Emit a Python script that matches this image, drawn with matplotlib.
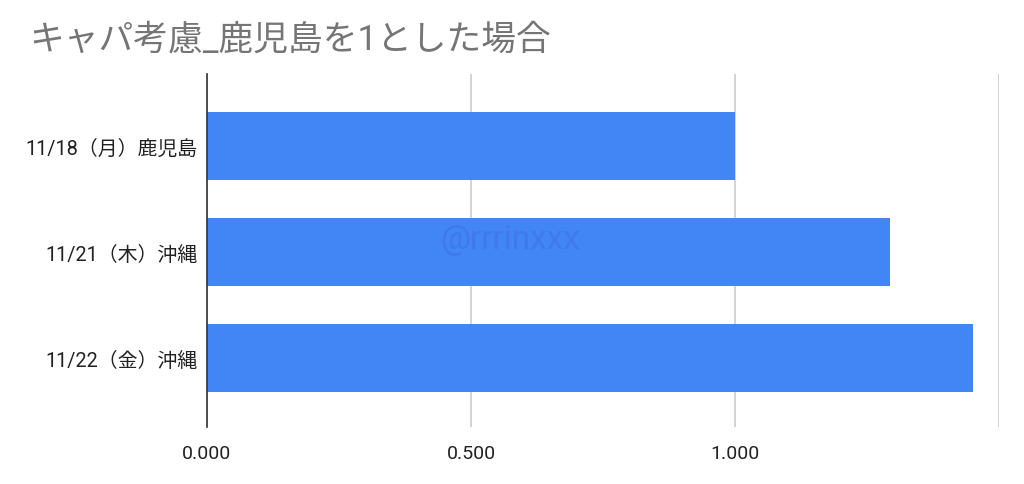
import matplotlib
matplotlib.use("Agg")
import matplotlib.pyplot as plt

plt.rcParams['font.family'] = ['Roboto', 'Noto Sans CJK JP', 'DejaVu Sans']

# data
labels = ['11/18（月）鹿児島', '11/21（木）沖縄', '11/22（金）沖縄']
values = [1.0, 1.293, 1.450]
xticks = [0.0, 0.5, 1.0, 1.5]
xtick_labels = ['0.000', '0.500', '1.000', '']

fig = plt.figure(figsize=(10.24, 4.85), dpi=100)
ax = fig.add_axes([0.2021, 0.1175, 0.7735, 0.7275])

ypos = list(range(len(labels)))
ax.barh(ypos, values, height=0.64, color='#4285F4', zorder=3)
ax.set_ylim(len(labels) - 1 + 0.65, -0.68)
ax.set_xlim(0, 1.5)

ax.set_xticks(xticks)
ax.set_xticklabels(xtick_labels, fontsize=14, color='#222222')
ax.set_yticks(ypos)
ax.set_yticklabels(labels, fontsize=14.3, color='#222222')
ax.tick_params(axis='both', length=0)
ax.tick_params(axis='x', pad=12)
ax.tick_params(axis='y', pad=7)

ax.grid(axis='x', color='#cccccc', linewidth=1.2, zorder=0)
for s in ['top', 'right', 'bottom']:
    ax.spines[s].set_visible(False)
ax.spines['left'].set_color('#333333')
ax.spines['left'].set_linewidth(1.2)
ax.spines['left'].set_zorder(4)

fig.text(0.029, 0.918, 'キャパ考慮_鹿児島を1とした場合', fontsize=25, color='#757575',
         ha='left', va='center', family=['Roboto', 'Noto Sans CJK JP'])
fig.text(0.498, 0.505, '@rrrinxxx', fontsize=24, color='#3a5fd8', alpha=0.3,
         ha='center', va='center', zorder=5)

fig.savefig('out.png', dpi=100)
